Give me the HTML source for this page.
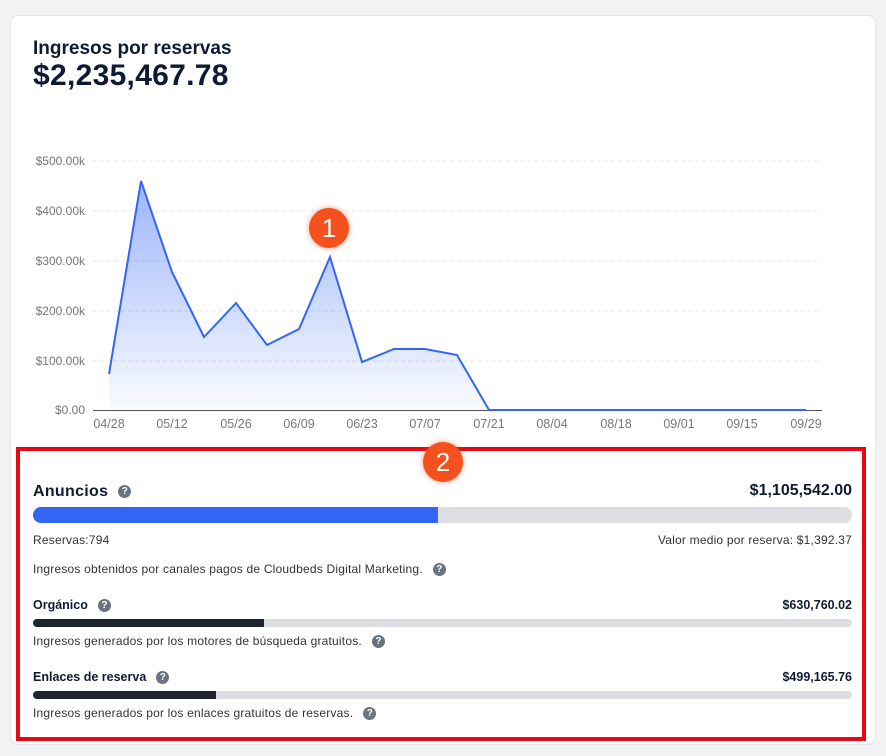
<!DOCTYPE html>
<html><head><meta charset="utf-8"><style>
body{margin:0;width:886px;height:756px;background:#f1f2f4;font-family:"Liberation Sans",sans-serif;position:relative;overflow:hidden}
.card{position:absolute;left:10px;top:15px;width:866px;height:730px;background:#fff;border-radius:8px;border:1px solid #e3e5e8;box-sizing:border-box}
.t{position:absolute;color:#0f1a33}
.s{font-size:12px;color:#333;letter-spacing:0.2px}
.q{display:inline-block;width:13px;height:13px;border-radius:50%;background:#6b7280;color:#fff;font-size:10px;font-weight:bold;text-align:center;line-height:13px;vertical-align:middle;margin-left:10px;letter-spacing:0}
.bar{position:absolute;left:33px;width:819px;background:#dcdee2;border-radius:6px;overflow:hidden}
.bar div{height:100%}
.badge{position:absolute;width:40px;height:40px;border-radius:50%;background:#f4511e;color:#fff;font-size:26px;text-align:center;line-height:40px;box-shadow:0 0 6px rgba(244,81,30,.6)}
</style></head><body>
<div class="card"></div>
<div class="t" style="left:33px;top:38px;font-size:19px;font-weight:bold">Ingresos por reservas</div>
<div class="t" style="left:33px;top:59px;font-size:30px;font-weight:bold;letter-spacing:0.3px">$2,235,467.78</div>
<svg style="position:absolute;left:0;top:0" width="886" height="440">
<defs><linearGradient id="g" x1="0" y1="0" x2="0" y2="1"><stop offset="0" stop-color="#3a6cf6" stop-opacity=".5"/><stop offset="1" stop-color="#3a6cf6" stop-opacity=".03"/></linearGradient></defs>
<g stroke="#e1e5ee" stroke-dasharray="4 3"><line x1="93" x2="822" y1="161" y2="161"/><line x1="93" x2="822" y1="211" y2="211"/><line x1="93" x2="822" y1="261" y2="261"/><line x1="93" x2="822" y1="311" y2="311"/><line x1="93" x2="822" y1="361" y2="361"/></g>
<line x1="93" x2="822" y1="410.5" y2="410.5" stroke="#555"/>
<g font-size="12" fill="#777" text-anchor="end"><text x="85" y="165">$500.00k</text><text x="85" y="215">$400.00k</text><text x="85" y="265">$300.00k</text><text x="85" y="315">$200.00k</text><text x="85" y="365">$100.00k</text><text x="85" y="414">$0.00</text></g>
<g font-size="12.5" fill="#777" text-anchor="middle"><text x="109" y="428">04/28</text><text x="172" y="428">05/12</text><text x="236" y="428">05/26</text><text x="299" y="428">06/09</text><text x="362" y="428">06/23</text><text x="425" y="428">07/07</text><text x="489" y="428">07/21</text><text x="552" y="428">08/04</text><text x="616" y="428">08/18</text><text x="679" y="428">09/01</text><text x="742" y="428">09/15</text><text x="806" y="428">09/29</text></g>
<path d="M109 374L141 181L172 272L204 337L236 303L267 345L299 329L330 257L362 362L394 349L425 349L457 355L489 410L806 410L806 410L109 410Z" fill="url(#g)"/>
<path d="M109 374L141 181L172 272L204 337L236 303L267 345L299 329L330 257L362 362L394 349L425 349L457 355L489 410L806 410" fill="none" stroke="#3366f5" stroke-width="2"/>
</svg>
<div class="badge" style="left:309px;top:208px">1</div>
<div style="position:absolute;left:16px;top:447px;width:850px;height:294px;border:4px solid #e50914;box-sizing:border-box"></div>
<div class="badge" style="left:423px;top:442px">2</div>
<div class="t" style="left:33px;top:483px;font-size:16px;font-weight:bold;letter-spacing:0.3px">Anuncios<span class="q">?</span></div>
<div class="t" style="right:34px;top:482px;font-size:16px;font-weight:bold">$1,105,542.00</div>
<div class="bar" style="top:507px;height:16px;border-radius:8px"><div style="width:405px;background:#3366f5"></div></div>
<div class="t s" style="left:33px;top:533px">Reservas:794</div>
<div class="t s" style="right:34px;top:533px">Valor medio por reserva: $1,392.37</div>
<div class="t s" style="left:33px;top:562px">Ingresos obtenidos por canales pagos de Cloudbeds Digital Marketing.<span class="q">?</span></div>
<div class="t" style="left:33px;top:598px;font-size:12.5px;font-weight:bold">Orgánico<span class="q">?</span></div>
<div class="t" style="right:34px;top:598px;font-size:12.5px;font-weight:bold">$630,760.02</div>
<div class="bar" style="top:619px;height:8px"><div style="width:231px;background:#1f2330"></div></div>
<div class="t s" style="left:33px;top:634px">Ingresos generados por los motores de búsqueda gratuitos.<span class="q">?</span></div>
<div class="t" style="left:33px;top:670px;font-size:12.5px;font-weight:bold">Enlaces de reserva<span class="q">?</span></div>
<div class="t" style="right:34px;top:670px;font-size:12.5px;font-weight:bold">$499,165.76</div>
<div class="bar" style="top:691px;height:8px"><div style="width:183px;background:#1f2330"></div></div>
<div class="t s" style="left:33px;top:706px">Ingresos generados por los enlaces gratuitos de reservas.<span class="q">?</span></div>
</body></html>
